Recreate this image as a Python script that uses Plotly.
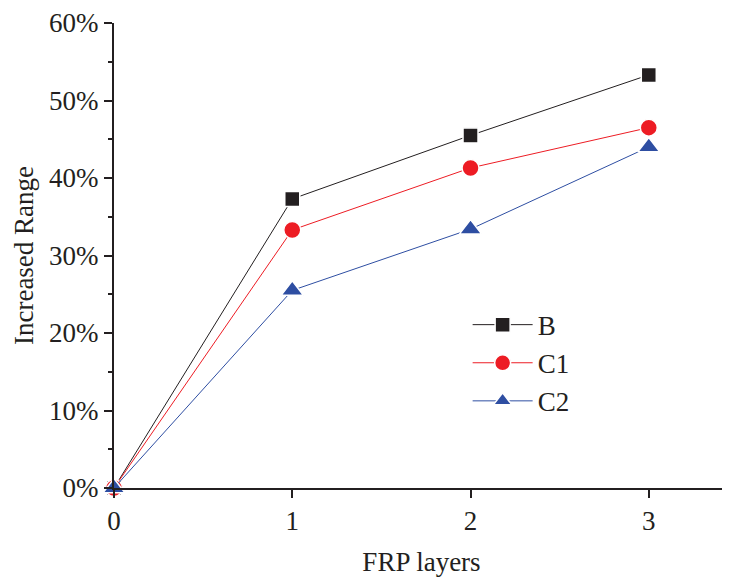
import plotly.graph_objects as go

layers = [0, 1, 2, 3]
B = [0.0, 0.373, 0.455, 0.533]
C1 = [0.0, 0.333, 0.413, 0.465]
C2 = [0.0, 0.255, 0.334, 0.440]

series = [
    ("B", B, "#231f20", "square", 15),
    ("C1", C1, "#ed1c24", "circle", 17),
    ("C2", C2, "#2e4ea2", "triangle-up", 19),
]

fig = go.Figure()
for name, vals, color, sym, sz in series:
    fig.add_trace(go.Scatter(
        x=layers, y=vals, name=name, mode="lines+markers",
        line=dict(color=color, width=1),
        marker=dict(symbol=sym, size=sz, color=color, line=dict(color="white", width=1.5)),
        cliponaxis=False,
    ))

font = "Times New Roman, Liberation Serif, serif"
fig.update_layout(
    width=722, height=569,
    margin=dict(l=106, r=1, t=15, b=89),
    plot_bgcolor="white", paper_bgcolor="white",
    font=dict(family=font, size=27, color="#231f20"),
    showlegend=True,
    legend=dict(x=0.575, y=0.403, xanchor="left", yanchor="top",
                bgcolor="rgba(0,0,0,0)", font=dict(family=font, size=27),
                itemwidth=60, tracegroupgap=0),
    xaxis=dict(range=[0, 3.45], tickvals=[0, 1, 2, 3], showgrid=False, zeroline=False,
               automargin=False, tickfont=dict(family=font, size=27),
               showline=True, linecolor="#231f20", linewidth=2,
               ticks="outside", ticklen=8, tickwidth=2, tickcolor="#231f20",
               title=dict(text="FRP layers", font=dict(family=font, size=27), standoff=18)),
    yaxis=dict(range=[0, 0.6], tickvals=[0, 0.1, 0.2, 0.3, 0.4, 0.5, 0.6],
               ticktext=["0%", "10%", "20%", "30%", "40%", "50%", "60%"],
               tickfont=dict(family=font, size=27),
               showgrid=False, zeroline=False, automargin=False,
               showline=True, linecolor="#231f20", linewidth=2,
               ticks="outside", ticklen=8, tickwidth=2, tickcolor="#231f20",
               minor=dict(tickvals=[0.05, 0.15, 0.25, 0.35, 0.45, 0.55], ticks="outside",
                          ticklen=4, tickwidth=2, tickcolor="#231f20"),
               title=dict(text="Increased Range", font=dict(family=font, size=27), standoff=8)),
)

fig.write_html("out.html")
